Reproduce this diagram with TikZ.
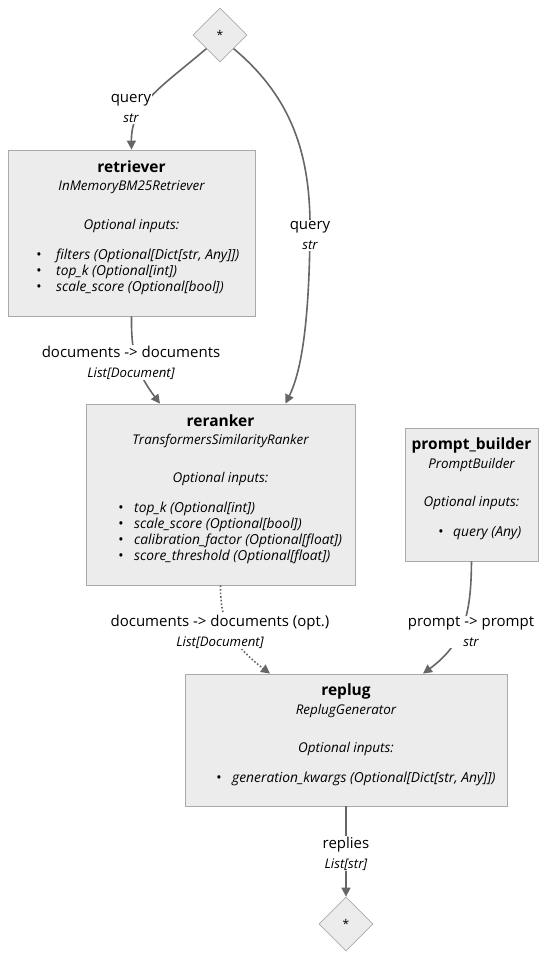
\documentclass[tikz,border=0pt]{standalone}
\usepackage{fontspec}
\setmainfont{Open Sans}
\usetikzlibrary{shapes.geometric,arrows.meta,calc}
\definecolor{boxfill}{HTML}{ECECEC}
\definecolor{boxline}{HTML}{AAAAAA}
\definecolor{edgecol}{HTML}{666666}
\tikzset{
  comp/.style={draw=boxline,fill=boxfill,line width=0.8pt,inner sep=0pt},
  io/.style={diamond,draw=boxline,fill=boxfill,line width=0.8pt,minimum width=54pt,minimum height=54pt,inner sep=0pt,font=\fontsize{12}{13}\selectfont},
  ttl/.style={font=\fontsize{15.5}{17}\selectfont\bfseries,inner sep=0pt},
  cls/.style={font=\fontsize{13.4}{14}\selectfont\itshape,inner sep=0pt},
  opt/.style={font=\fontsize{13.5}{15}\selectfont\itshape,inner sep=0pt},
  item/.style={font=\fontsize{13.8}{15}\selectfont\itshape,inner sep=0pt,anchor=west},
  bul/.style={font=\fontsize{14}{14}\selectfont,inner sep=0pt},
  edge/.style={draw=edgecol,line width=1.6pt,-{Triangle[length=9pt,width=9pt]}},
  dotedge/.style={edge,dotted},
  lab/.style={fill=white,inner sep=1pt,align=center,font=\fontsize{15}{20}\selectfont},
}
\newcommand{\ty}[1]{{\fontsize{13.2}{20}\selectfont\itshape #1}}
\begin{document}
\begin{tikzpicture}[x=1pt,y=-1pt]
\useasboundingbox (0,0) rectangle (546,959);
% nodes
\node[io] (top) at (220,35) {*};
\node[io] (bot) at (346,924) {*};
\node[comp,minimum width=247pt,minimum height=166pt] (ret) at (131.5,233) {};
\node[comp,minimum width=269pt,minimum height=181pt] (rer) at (220.5,494.5) {};
\node[comp,minimum width=133pt,minimum height=133pt] (pb) at (471.5,494.5) {};
\node[comp,minimum width=322pt,minimum height=132pt] (rep) at (346,740) {};
% retriever text
\node[ttl] (retT) at (131.5,167) {retriever};
\node[cls] (retC) at (131.5,187) {InMemoryBM25Retriever};
\node[opt] (retO) at (131.5,226) {Optional inputs:};
\node[bul] (retb1) at (39,256) {•};
\node[item] (reti1) at (56,256) {filters (Optional[Dict[str, Any]])};
\node[bul] (retb2) at (39,272) {•};
\node[item] (reti2) at (56,272) {top\_k (Optional[int])};
\node[bul] (retb3) at (39,288) {•};
\node[item] (reti3) at (56,288) {scale\_score (Optional[bool])};
% reranker text
\node[ttl] (rerT) at (220.5,421) {reranker};
\node[cls] (rerC) at (220.5,441) {TransformersSimilarityRanker};
\node[opt] (rerO) at (220.5,479) {Optional inputs:};
\node[bul] (rerb1) at (121,509) {•};
\node[item] (reri1) at (134,509) {top\_k (Optional[int])};
\node[bul] (rerb2) at (121,525) {•};
\node[item] (reri2) at (134,525) {scale\_score (Optional[bool])};
\node[bul] (rerb3) at (121,541) {•};
\node[item] (reri3) at (134,541) {calibration\_factor (Optional[float])};
\node[bul] (rerb4) at (121,557) {•};
\node[item] (reri4) at (134,557) {score\_threshold (Optional[float])};
% prompt builder text
\node[ttl] (pbT) at (471.5,445) {prompt\_builder};
\node[cls] (pbC) at (471.5,465) {PromptBuilder};
\node[opt] (pbO) at (471.5,503) {Optional inputs:};
\node[bul] (pbb1) at (441,533) {•};
\node[item] (pbi1) at (453,533) {query (Any)};
% replug text
\node[ttl] (repT) at (346,691) {replug};
\node[cls] (repC) at (346,711) {ReplugGenerator};
\node[opt] (repO) at (346,749) {Optional inputs:};
\node[bul] (repb1) at (219,779) {•};
\node[item] (repi1) at (232,779) {generation\_kwargs (Optional[Dict[str, Any]])};
% edges
\draw[edge] (top.south west) .. controls (160,88) and (131,105) .. (ret.north);
\draw[edge] (top.south east) .. controls (295,100) and (311,160) .. (310,234) .. controls (309,320) and (302,370) .. ([xshift=65pt]rer.north);
\draw[edge] (ret.south) .. controls (131,352) and (136,372) .. ([xshift=-60.5pt]rer.north);
\draw[dotedge] (rer.south) .. controls (220,622) and (232,645) .. ([xshift=-76pt]rep.north);
\draw[edge] (pb.south) .. controls (471,610) and (466,642) .. ([xshift=77pt]rep.north);
\draw[edge] (rep.south) -- (bot.north);
% labels
\node[lab] (l1) at (131,108.5) {query\\\ty{str}};
\node[lab] (l2) at (310,235.5) {query\\\ty{str}};
\node[lab] (l3) at (131,362.5) {documents -> documents\\\ty{List[Document]}};
\node[lab] (l4) at (220,631.5) {documents -> documents (opt.)\\\ty{List[Document]}};
\node[lab] (l5) at (471,631.5) {prompt -> prompt\\\ty{str}};
\node[lab] (l6) at (346,853.5) {replies\\\ty{List[str]}};
\end{tikzpicture}
\end{document}
